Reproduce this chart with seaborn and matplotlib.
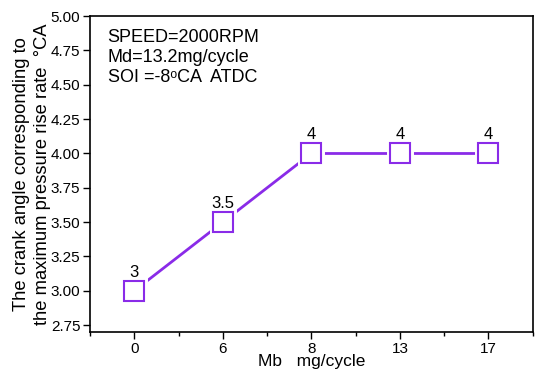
import matplotlib
matplotlib.use("Agg")
import matplotlib.pyplot as plt
import seaborn as sns
import pandas as pd
from matplotlib.ticker import MultipleLocator, FixedLocator

categories = ["0", "6", "8", "13", "17"]
values = [3.0, 3.5, 4.0, 4.0, 4.0]
labels = ["3", "3.5", "4", "4", "4"]

sns.set_style("ticks")
plt.rcParams['font.family'] = ['Liberation Sans', 'DejaVu Sans']
plt.rcParams['text.color'] = 'black'
plt.rcParams['axes.labelcolor'] = 'black'
plt.rcParams['xtick.color'] = 'black'
plt.rcParams['ytick.color'] = 'black'

df = pd.DataFrame({"Mb": categories, "angle": values, "pos": range(len(categories))})

fig = plt.figure(figsize=(5.5, 3.76), dpi=100)
ax = fig.add_axes([0.1636, 0.117, 0.805, 0.840])

color = "#8a2be8"
sns.lineplot(data=df, x="pos", y="angle", ax=ax, color=color, linewidth=2, zorder=2)
ax.plot(df["pos"], df["angle"], linestyle="none", marker="s", markersize=15,
        markerfacecolor="white", markeredgecolor="white", markeredgewidth=5, zorder=3)
ax.plot(df["pos"], df["angle"], linestyle="none", marker="s", markersize=15,
        markerfacecolor="white", markeredgecolor=color, markeredgewidth=1.5, zorder=4)

for p, v, t in zip(df["pos"], values, labels):
    ax.annotate(t, (p, v), xytext=(0, 8), textcoords="offset points",
                ha="center", va="bottom", fontsize=12, color="black")

ax.set_xlim(-0.5, 4.5)
ax.set_ylim(2.70, 5.00)
ax.xaxis.set_major_locator(FixedLocator(range(len(categories))))
ax.set_xticklabels(categories)
ax.xaxis.set_minor_locator(FixedLocator([i + 0.5 for i in range(-1, len(categories))]))
ax.yaxis.set_major_locator(MultipleLocator(0.25))
ax.yaxis.set_major_formatter(matplotlib.ticker.FormatStrFormatter("%.2f"))

for s in ax.spines.values():
    s.set_visible(True)
    s.set_linewidth(1.2)
    s.set_color("black")
ax.tick_params(axis="both", which="major", direction="out", length=5, width=1,
               labelsize=11, color="black", labelcolor="black", pad=2)
ax.tick_params(axis="x", which="minor", direction="out", length=3, width=1, color="black")

ax.set_xlabel("Mb   mg/cycle", fontsize=12.5, labelpad=-1, color="black")
ax.set_ylabel("The crank angle corresponding to\nthe maximum pressure rise rate  °CA",
              fontsize=13.2, labelpad=0, linespacing=1.3, color="black")

ax.text(0.04, 0.96, "SPEED=2000RPM\nMd=13.2mg/cycle\nSOI =-8ᵒCA  ATDC",
        transform=ax.transAxes, ha="left", va="top", fontsize=13, linespacing=1.25,
        color="black")

fig.savefig("out.png", dpi=100)
